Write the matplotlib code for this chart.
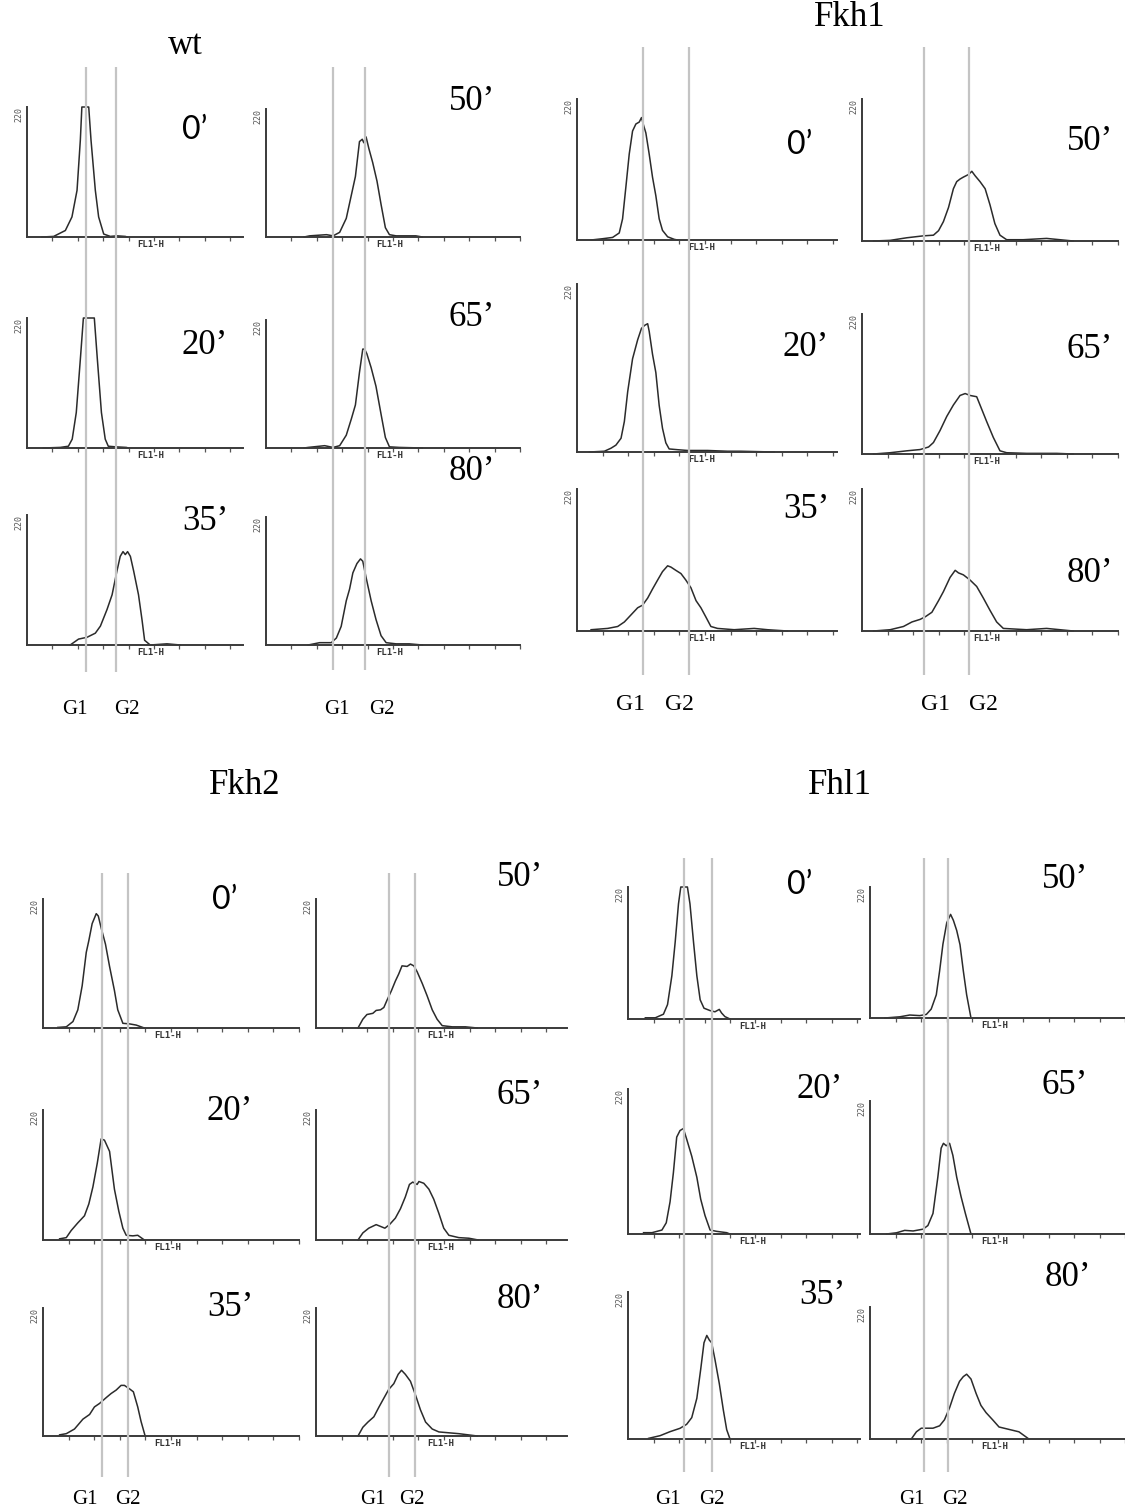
import matplotlib
matplotlib.use("Agg")
import matplotlib.pyplot as plt

W, H = 1125, 1512

# ---- data: FL1-H channel vs cell count (y axis tops out at 220) ----
# wt
wt_00_ch = [59, 105, 151, 177, 197, 210, 216, 243, 252, 269, 282, 302, 328, 354, 387, 394]
wt_00_n = [0, 1, 11, 34, 79, 164, 220, 220, 164, 79, 34, 5, 1, 2, 1, 0]
wt_20_ch = [64, 131, 163, 178, 194, 210, 222, 265, 277, 293, 308, 320, 348, 391, 399]
wt_20_n = [0, 1, 3, 15, 60, 150, 220, 220, 150, 60, 15, 3, 2, 1, 0]
wt_35_ch = [170, 203, 236, 269, 289, 315, 335, 354, 367, 378, 387, 396, 407, 420, 439, 453, 463, 485, 551, 604]
wt_35_n = [0, 10, 13, 20, 32, 60, 85, 125, 150, 158, 153, 158, 150, 125, 85, 42, 8, 0, 2, 0]
wt_50_ch = [150, 172, 238, 264, 290, 316, 336, 352, 368, 379, 385, 394, 405, 420, 437, 453, 470, 486, 512, 590, 616]
wt_50_n = [0, 2, 4, 2, 8, 32, 72, 104, 164, 168, 162, 172, 152, 128, 96, 56, 16, 4, 2, 2, 0]
wt_65_ch = [150, 166, 231, 264, 290, 316, 336, 352, 368, 381, 388, 397, 414, 433, 453, 470, 486, 525, 616]
wt_65_n = [0, 1, 4, 1, 4, 22, 50, 74, 130, 170, 170, 162, 138, 106, 58, 18, 2, 1, 0]
wt_80_ch = [166, 211, 257, 277, 296, 316, 329, 342, 358, 372, 381, 394, 414, 433, 453, 473, 512, 564, 616]
wt_80_n = [0, 4, 4, 12, 32, 76, 96, 124, 140, 148, 144, 116, 76, 44, 16, 4, 2, 2, 0]

# Fkh1
fkh1_00_ch = [55, 100, 139, 165, 178, 191, 204, 217, 230, 243, 252, 260, 269, 282, 295, 308, 321, 334, 354, 380, 393]
fkh1_00_n = [0, 2, 4, 11, 33, 83, 134, 170, 181, 184, 191, 179, 167, 134, 98, 69, 33, 15, 5, 1, 0]
fkh1_20_ch = [48, 107, 133, 152, 172, 185, 198, 217, 237, 252, 265, 276, 282, 295, 308, 321, 334, 347, 360, 393, 432, 510, 588, 640, 770]
fkh1_20_n = [0, 1, 5, 9, 18, 40, 79, 122, 147, 162, 166, 168, 158, 128, 104, 61, 31, 12, 4, 3, 2, 2, 1, 1, 0]
fkh1_35_ch = [55, 120, 159, 185, 211, 237, 256, 276, 295, 315, 334, 354, 367, 386, 406, 425, 445, 465, 484, 503, 523, 549, 614, 692, 744, 822]
fkh1_35_n = [2, 4, 7, 14, 25, 36, 40, 51, 65, 79, 92, 101, 99, 94, 89, 79, 67, 47, 36, 22, 7, 4, 2, 4, 2, 0]
fkh1_50_ch = [45, 110, 175, 240, 279, 299, 318, 338, 357, 370, 383, 396, 416, 429, 442, 461, 481, 500, 519, 539, 565, 630, 721, 799, 825]
fkh1_50_n = [0, 1, 5, 8, 9, 16, 30, 52, 81, 92, 96, 99, 103, 108, 101, 92, 81, 56, 27, 9, 2, 2, 4, 1, 0]
fkh1_65_ch = [45, 110, 175, 227, 260, 279, 305, 331, 357, 383, 403, 422, 448, 461, 487, 513, 539, 565, 643, 760, 825]
fkh1_65_n = [0, 2, 5, 7, 11, 18, 37, 59, 77, 92, 95, 92, 90, 77, 51, 26, 5, 2, 1, 1, 0]
fkh1_80_ch = [45, 110, 162, 195, 227, 247, 273, 299, 318, 344, 364, 377, 396, 422, 448, 474, 500, 526, 552, 643, 721, 825]
fkh1_80_n = [0, 2, 7, 14, 18, 22, 29, 47, 61, 83, 94, 90, 87, 79, 69, 51, 32, 14, 4, 2, 4, 0]

# Fkh2
fkh2_00_ch = [58, 91, 117, 136, 153, 169, 179, 192, 208, 216, 227, 244, 260, 279, 292, 312, 338, 364, 396]
fkh2_00_n = [1, 2, 11, 31, 72, 129, 149, 178, 195, 191, 171, 143, 105, 64, 31, 8, 7, 5, 0]
fkh2_20_ch = [65, 91, 110, 136, 162, 179, 195, 212, 227, 240, 260, 279, 296, 312, 325, 351, 370, 396]
fkh2_20_n = [2, 4, 16, 29, 41, 61, 90, 130, 171, 169, 150, 86, 49, 20, 8, 7, 8, 0]
fkh2_35_ch = [65, 91, 123, 156, 182, 201, 221, 247, 266, 286, 305, 318, 338, 353, 370, 383, 399]
fkh2_35_n = [2, 4, 12, 29, 37, 50, 56, 66, 73, 79, 87, 87, 81, 76, 50, 25, 0]
fkh2_50_ch = [164, 183, 199, 222, 235, 252, 265, 278, 295, 310, 323, 336, 356, 369, 382, 395, 415, 434, 454, 473, 493, 532, 584, 630]
fkh2_50_n = [0, 15, 23, 25, 30, 31, 35, 48, 64, 80, 92, 106, 105, 109, 106, 96, 76, 55, 31, 15, 4, 2, 2, 0]
fkh2_65_ch = [164, 183, 206, 235, 252, 269, 287, 310, 330, 349, 365, 378, 395, 402, 421, 441, 460, 480, 499, 519, 558, 597, 634]
fkh2_65_n = [0, 12, 20, 26, 23, 20, 26, 37, 53, 73, 94, 98, 94, 99, 96, 86, 69, 45, 20, 8, 4, 3, 0]
fkh2_80_ch = [164, 183, 203, 226, 245, 265, 284, 304, 321, 334, 349, 369, 389, 408, 428, 454, 480, 558, 630]
fkh2_80_n = [0, 15, 24, 33, 49, 65, 80, 90, 106, 113, 106, 94, 70, 45, 24, 12, 7, 4, 0]

# Fhl1
fhl1_00_ch = [68, 107, 139, 155, 172, 185, 198, 207, 233, 243, 257, 270, 283, 298, 322, 341, 358, 367, 380, 400]
fhl1_00_n = [2, 2, 8, 24, 72, 128, 192, 220, 220, 192, 128, 72, 32, 18, 14, 12, 16, 10, 4, 0]
fhl1_20_ch = [61, 94, 133, 150, 165, 178, 191, 204, 217, 230, 250, 270, 285, 302, 322, 348, 387, 400]
fhl1_20_n = [2, 2, 6, 17, 49, 93, 147, 157, 160, 144, 118, 86, 53, 28, 6, 4, 2, 0]
fhl1_35_ch = [81, 126, 165, 204, 230, 250, 270, 285, 298, 309, 319, 328, 341, 358, 374, 387, 400]
fhl1_35_n = [1, 5, 11, 16, 22, 32, 61, 104, 144, 155, 148, 144, 119, 83, 43, 14, 0]
fhl1_50_ch = [58, 117, 156, 195, 221, 240, 260, 273, 286, 301, 316, 327, 340, 353, 366, 379, 396]
fhl1_50_n = [0, 2, 5, 4, 6, 15, 39, 79, 124, 160, 174, 164, 147, 123, 79, 39, 0]
fhl1_65_ch = [65, 104, 136, 169, 208, 227, 247, 266, 279, 288, 299, 312, 325, 340, 357, 374, 396]
fhl1_65_n = [0, 2, 6, 5, 8, 14, 34, 94, 142, 150, 146, 150, 130, 94, 62, 34, 0]
fhl1_80_ch = [162, 182, 201, 223, 247, 273, 292, 312, 331, 351, 366, 379, 396, 416, 435, 455, 481, 506, 545, 584, 623]
fhl1_80_n = [0, 12, 18, 18, 18, 22, 32, 52, 76, 96, 104, 108, 100, 76, 56, 44, 32, 20, 16, 12, 0]

# G1 / G2 marker channels for each column
wt_g = [(232, 350), (264, 390)]
fkh1_g = [(258, 437), (242, 418)]
fkh2_g = [(230, 332), (287, 388)]
fhl1_g = [(220, 330), (211, 306)]

times_left = ["0\u2019", "20\u2019", "35\u2019"]
times_right = ["50\u2019", "65\u2019", "80\u2019"]
y_max = 220

# ---- layout (pixels in the 1125x1512 image) ----
groups = [
    dict(title="wt", title_xy=(185, 45), g=wt_g, gsize=15,
         curves=[[(wt_00_ch, wt_00_n), (wt_20_ch, wt_20_n), (wt_35_ch, wt_35_n)],
                 [(wt_50_ch, wt_50_n), (wt_65_ch, wt_65_n), (wt_80_ch, wt_80_n)]],
         cols=[dict(left=27, sp=25.4, xmax=850, rows=[(107, 237), (318, 448), (515, 645)], lines=(67, 672),
                    labels=[(195, 130), (205, 345), (205, 522)], glab=[(75, 710), (127, 710)]),
               dict(left=266, sp=25.4, xmax=1000, rows=[(109, 237), (320, 448), (517, 645)], lines=(67, 670),
                    labels=[(472, 102), (472, 318), (472, 472)], glab=[(337, 710), (382, 710)])]),
    dict(title="Fkh1", title_xy=(850, 18), g=fkh1_g, gsize=17,
         curves=[[(fkh1_00_ch, fkh1_00_n), (fkh1_20_ch, fkh1_20_n), (fkh1_35_ch, fkh1_35_n)],
                 [(fkh1_50_ch, fkh1_50_n), (fkh1_65_ch, fkh1_65_n), (fkh1_80_ch, fkh1_80_n)]],
         cols=[dict(left=577, sp=25.6, xmax=1015, rows=[(99, 240), (284, 452), (489, 631)], lines=(47, 675),
                    labels=[(800, 145), (806, 348), (806, 510)], glab=[(630, 704), (679, 704)]),
               dict(left=862, sp=25.6, xmax=1000, rows=[(99, 241), (314, 454), (489, 631)], lines=(47, 675),
                    labels=[(1090, 142), (1090, 350), (1090, 573)], glab=[(935, 704), (983, 704)])]),
    dict(title="Fkh2", title_xy=(245, 785), g=fkh2_g, gsize=15,
         curves=[[(fkh2_00_ch, fkh2_00_n), (fkh2_20_ch, fkh2_20_n), (fkh2_35_ch, fkh2_35_n)],
                 [(fkh2_50_ch, fkh2_50_n), (fkh2_65_ch, fkh2_65_n), (fkh2_80_ch, fkh2_80_n)]],
         cols=[dict(left=43, sp=25.6, xmax=1000, rows=[(899, 1028), (1110, 1240), (1308, 1436)], lines=(873, 1477),
                    labels=[(225, 900), (230, 1112), (230, 1308)], glab=[(85, 1500), (128, 1500)]),
               dict(left=316, sp=25.6, xmax=980, rows=[(899, 1028), (1110, 1240), (1308, 1436)], lines=(873, 1477),
                    labels=[(520, 878), (520, 1095), (520, 1300)], glab=[(373, 1500), (412, 1500)])]),
    dict(title="Fhl1", title_xy=(840, 785), g=fhl1_g, gsize=15,
         curves=[[(fhl1_00_ch, fhl1_00_n), (fhl1_20_ch, fhl1_20_n), (fhl1_35_ch, fhl1_35_n)],
                 [(fhl1_50_ch, fhl1_50_n), (fhl1_65_ch, fhl1_65_n), (fhl1_80_ch, fhl1_80_n)]],
         cols=[dict(left=628, sp=25.5, xmax=910, rows=[(887, 1019), (1089, 1234), (1292, 1439)], lines=(858, 1472),
                    labels=[(800, 885), (820, 1090), (822, 1295)], glab=[(668, 1500), (712, 1500)]),
               dict(left=870, sp=25.5, xmax=1000, rows=[(887, 1018), (1101, 1234), (1307, 1439)], lines=(858, 1472),
                    labels=[(1065, 880), (1065, 1085), (1068, 1278)], glab=[(912, 1500), (955, 1500)])]),
]

serif = "Liberation Serif"
sans = "Lato"

fig = plt.figure(figsize=(W / 100, H / 100), dpi=100)
fig.patch.set_facecolor("white")


def box(l, t, r, b):
    return [l / W, 1 - b / H, (r - l) / W, (b - t) / H]


def fx(x):
    return x / W


def fy(y):
    return 1 - y / H


for grp in groups:
    fig.text(fx(grp["title_xy"][0]), fy(grp["title_xy"][1]), grp["title"], family=serif,
             fontsize=25, ha="center", va="center")
    for ci, col in enumerate(grp["cols"]):
        right = col["left"] + col["xmax"] * col["sp"] / 100
        times = times_left if ci == 0 else times_right
        for ri, (top, base) in enumerate(col["rows"]):
            ch, n = grp["curves"][ci][ri]
            ax = fig.add_axes(box(col["left"], top, right, base))
            ax.patch.set_alpha(0)
            ax.plot(ch, n, color="#2b2b2b", lw=1.1, clip_on=False)
            ax.set_xlim(0, col["xmax"])
            ax.set_ylim(0, y_max)
            for s in ["top", "right"]:
                ax.spines[s].set_visible(False)
            for s in ["left", "bottom"]:
                ax.spines[s].set_color("#3a3a3a")
                ax.spines[s].set_linewidth(1.4)
            ax.set_xticks(range(100, col["xmax"] + 1, 100))
            ax.set_yticks([])
            ax.tick_params(axis="x", direction="out", length=3, width=0.9, color="#555555",
                           labelbottom=False)
            ax.annotate(str(y_max), xy=(0, 1), xycoords="axes fraction", xytext=(-8, 0),
                        textcoords="offset pixels", rotation=90, ha="center", va="top",
                        fontsize=6, color="#555555", family="DejaVu Sans Mono")
            ax.annotate("FL1-H", xy=(435, 0), xycoords=("data", "axes fraction"), xytext=(0, -3),
                        textcoords="offset pixels", ha="left", va="top", fontsize=6.5,
                        color="#333333", family="DejaVu Sans Mono", weight="bold")
            lx, ly = col["labels"][ri]
            if ci == 0 and ri == 0:
                fig.text(fx(lx), fy(ly), times[ri], family=sans, fontsize=23, ha="center", va="center")
            else:
                fig.text(fx(lx), fy(ly), times[ri], family=serif, fontsize=25, ha="center", va="center")

        # G1 / G2 guide lines spanning the column
        lt, lb = col["lines"]
        gax = fig.add_axes(box(col["left"], lt, right, lb))
        gax.set_xlim(0, col["xmax"])
        gax.axis("off")
        for g in grp["g"][ci]:
            gax.axvline(g, color="#c4c4c4", lw=1.6)
        for txt, (gx, gy) in zip(["G1", "G2"], col["glab"]):
            fig.text(fx(gx), fy(gy), txt, family=serif, fontsize=grp["gsize"], ha="center", va="center")

fig.savefig("out.png", dpi=100, facecolor="white")
